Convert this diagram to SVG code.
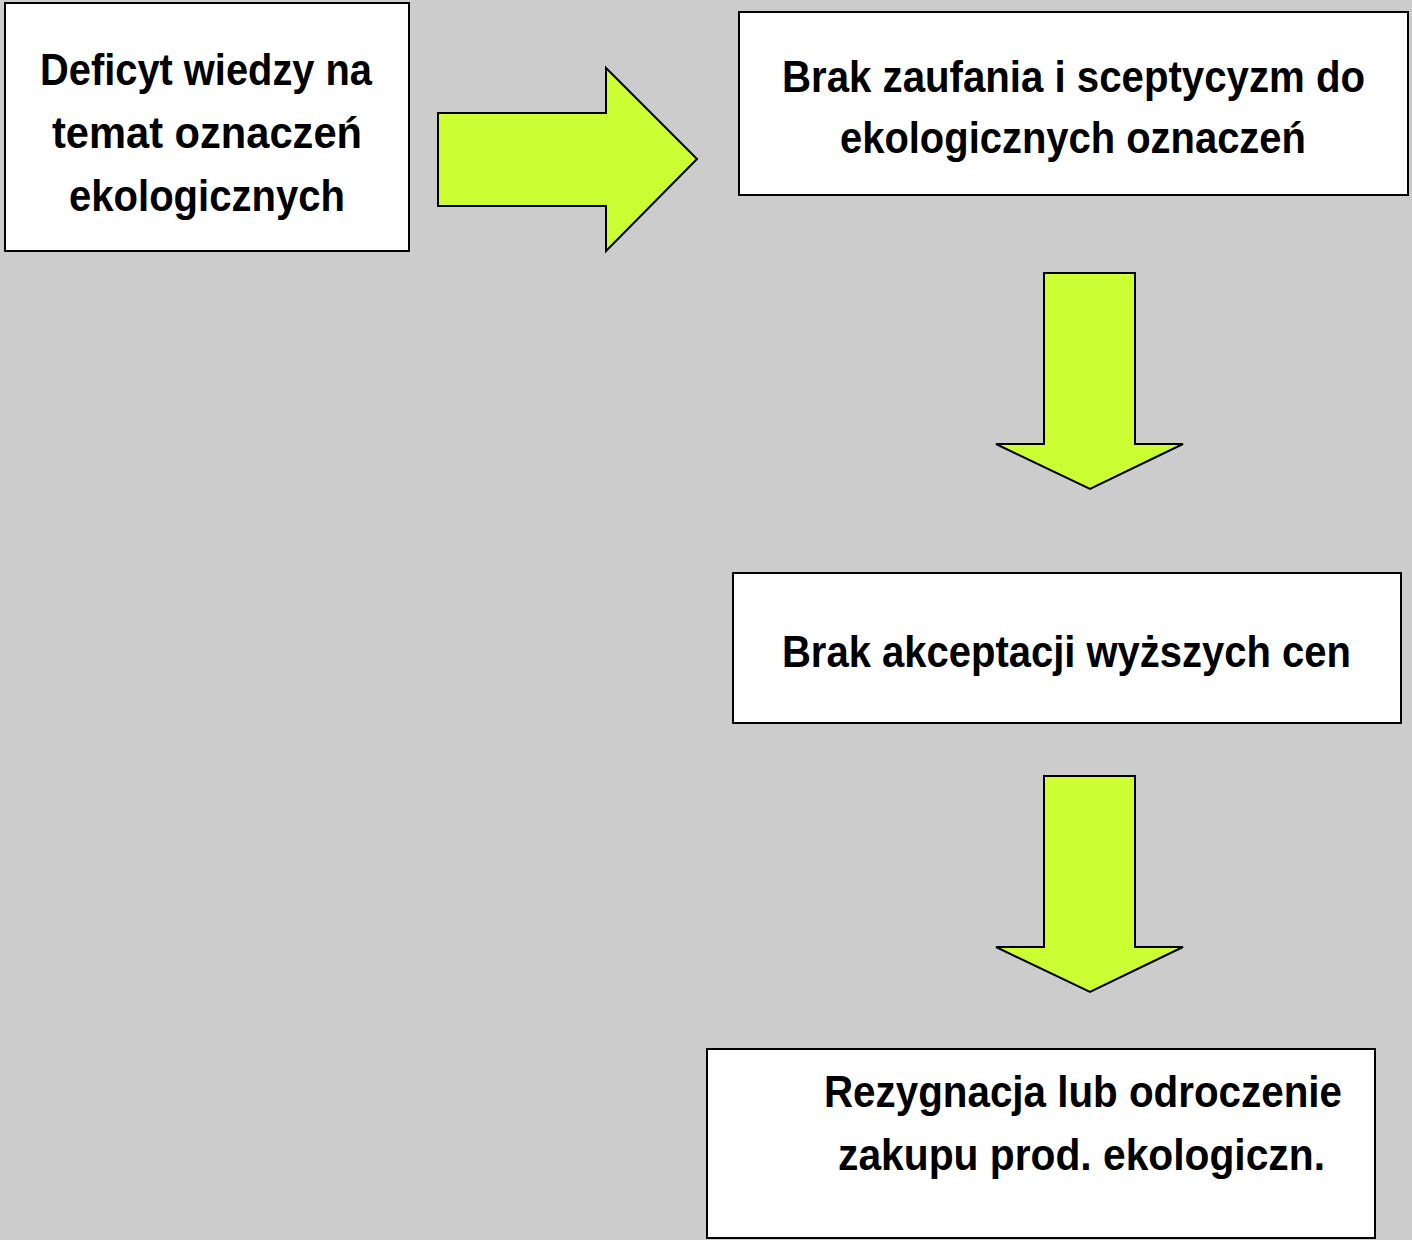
<svg xmlns="http://www.w3.org/2000/svg" width="1412" height="1240" viewBox="0 0 1412 1240">
<style>
.box{fill:#ffffff;stroke:#000000;stroke-width:2}
.arr{fill:#CCFF33;stroke:#000000;stroke-width:2;stroke-linejoin:miter}
.t{font-family:"Liberation Sans","Arial",sans-serif;font-weight:bold;font-size:45px;fill:#000000}
</style>
<rect x="0" y="0" width="1412" height="1240" fill="#CCCCCC"/>
<g id="connectors">
<polygon class="arr" points="438,113 606,113 606,68 697,159 606,251 606,206 438,206"/>
<polygon class="arr" points="1044,273 1135,273 1135,444 1183,444 1090,489 996,444 1044,444"/>
<polygon class="arr" points="1044,776 1135,776 1135,947 1183,947 1090,992 996,947 1044,947"/>
</g>
<g id="node1">
<rect class="box" x="5" y="3" width="404" height="248"/>
<g transform="scale(0.85,1)">
<text class="t" x="47.06" y="85" textLength="390.6" lengthAdjust="spacingAndGlyphs">Deficyt wiedzy na</text>
<text class="t" x="61.18" y="148" textLength="364.7" lengthAdjust="spacingAndGlyphs">temat oznaczeń</text>
<text class="t" x="81.18" y="211" textLength="324.7" lengthAdjust="spacingAndGlyphs">ekologicznych</text>
</g>
</g>
<g id="node2">
<rect class="box" x="739" y="12" width="669" height="183"/>
<g transform="scale(0.85,1)">
<text class="t" x="920" y="92" textLength="685.9" lengthAdjust="spacingAndGlyphs">Brak zaufania i sceptycyzm do</text>
<text class="t" x="988.2" y="153" textLength="548.2" lengthAdjust="spacingAndGlyphs">ekologicznych oznaczeń</text>
</g>
</g>
<g id="node3">
<rect class="box" x="733" y="573" width="668" height="150"/>
<g transform="scale(0.85,1)">
<text class="t" x="920" y="667" textLength="669.4" lengthAdjust="spacingAndGlyphs">Brak akceptacji wyższych cen</text>
</g>
</g>
<g id="node4">
<rect class="box" x="707" y="1049" width="668" height="189"/>
<g transform="scale(0.85,1)">
<text class="t" x="969.4" y="1107" textLength="609.4" lengthAdjust="spacingAndGlyphs">Rezygnacja lub odroczenie</text>
<text class="t" x="985.9" y="1170" textLength="572.9" lengthAdjust="spacingAndGlyphs">zakupu prod. ekologiczn.</text>
</g>
</g>
</svg>
